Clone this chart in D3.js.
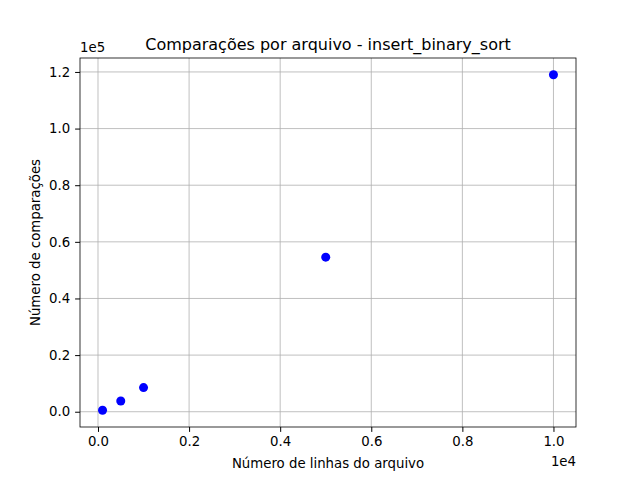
<!DOCTYPE html>
<html><head><meta charset="utf-8">
<script src="https://cdn.jsdelivr.net/npm/d3@7"></script>
<style>body{margin:0;background:#fff}text{font-family:"DejaVu Sans",sans-serif}</style>
</head><body>
<svg id="c" width="640" height="480"></svg>
<script>
const linhas = [100, 500, 1000, 5000, 10000]
const comparacoes = [530, 3770, 8530, 54600, 119000]
const xTicks = [0, 2000, 4000, 6000, 8000, 10000]
const yTicks = [0, 20000, 40000, 60000, 80000, 100000, 120000]

const L = 80, R = 576, T = 58, B = 427
const svg = d3.select('#c')
const pad = (a) => { const [lo, hi] = d3.extent(a), m = (hi - lo) * 0.05; return [lo - m, hi + m] }
const x = d3.scaleLinear().domain(pad(linhas)).range([L, R])
const y = d3.scaleLinear().domain(pad(comparacoes)).range([B, T])

// grid
svg.append('g').selectAll('line').data(xTicks).join('line')
    .attr('x1', d => x(d)).attr('x2', d => x(d)).attr('y1', T).attr('y2', B)
    .attr('stroke', '#b0b0b0').attr('stroke-width', 0.8)
svg.append('g').selectAll('line').data(yTicks).join('line')
    .attr('y1', d => y(d)).attr('y2', d => y(d)).attr('x1', L).attr('x2', R)
    .attr('stroke', '#b0b0b0').attr('stroke-width', 0.8)

svg.append('g').attr('transform', `translate(0,${B})`)
    .call(d3.axisBottom(x).tickValues(xTicks).tickSizeOuter(0).tickSize(4.9).tickPadding(4.9).tickFormat(d => (d / 1e4).toFixed(1)))
svg.append('g').attr('transform', `translate(${L},0)`)
    .call(d3.axisLeft(y).tickValues(yTicks).tickSizeOuter(0).tickSize(4.9).tickPadding(4.9).tickFormat(d => (d / 1e5).toFixed(1)))
svg.selectAll('.tick text').attr('font-size', 13.3).attr('fill', '#000').style('font-family', 'DejaVu Sans')
svg.selectAll('.domain').remove()

svg.append('rect').attr('x', L).attr('y', T).attr('width', R - L).attr('height', B - T)
    .attr('fill', 'none').attr('stroke', '#000').attr('stroke-width', 0.8)

svg.append('g').selectAll('circle').data(linhas).join('circle')
    .attr('cx', d => x(d)).attr('cy', (d, i) => y(comparacoes[i])).attr('r', 4.5).attr('fill', 'blue')

svg.append('text').attr('x', (L + R) / 2).attr('y', 50).attr('text-anchor', 'middle').attr('font-size', 16)
    .text('Comparações por arquivo - insert_binary_sort')
svg.append('text').attr('x', (L + R) / 2).attr('y', 468).attr('text-anchor', 'middle').attr('font-size', 13.3)
    .text('Número de linhas do arquivo')
svg.append('text').attr('transform', `translate(40,${(T + B) / 2}) rotate(-90)`).attr('text-anchor', 'middle').attr('font-size', 13.3)
    .text('Número de comparações')
svg.append('text').attr('x', R).attr('y', 466).attr('text-anchor', 'end').attr('font-size', 13.3).text('1e4')
svg.append('text').attr('x', L).attr('y', 52).attr('text-anchor', 'start').attr('font-size', 13.3).text('1e5')
</script>
</body></html>
